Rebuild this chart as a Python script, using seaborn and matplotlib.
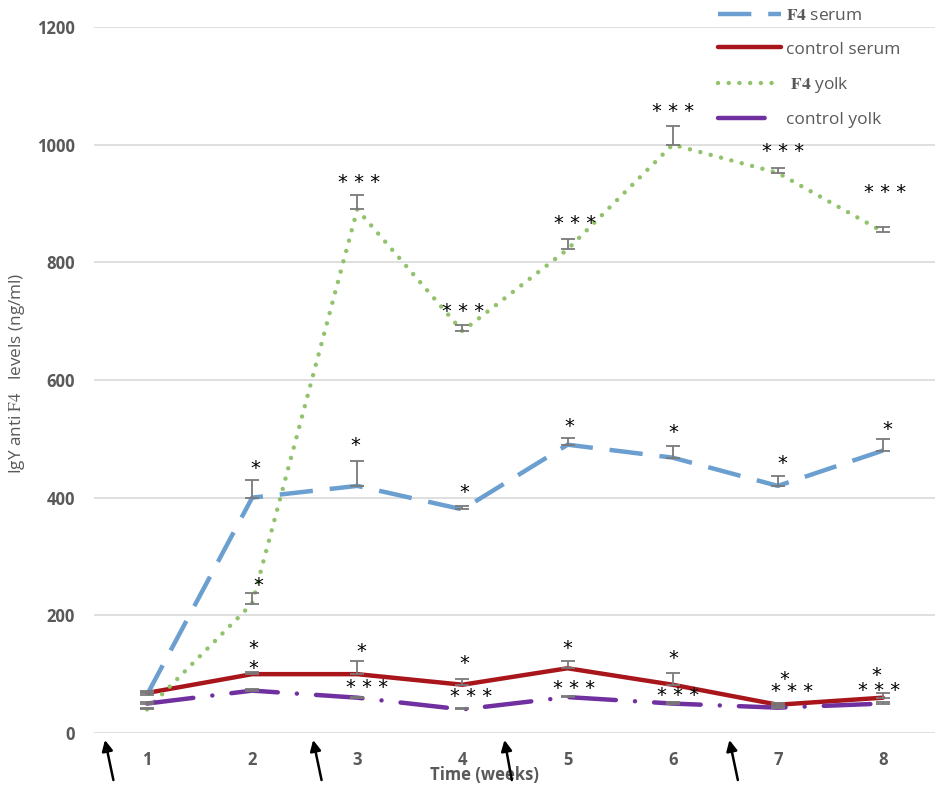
import matplotlib
matplotlib.use("Agg")
import matplotlib.pyplot as plt
import numpy as np
import pandas as pd
import seaborn as sns

sns.set_theme(style="white")
plt.rcParams["font.family"] = ["Open Sans", "DejaVu Sans"]
plt.rcParams["mathtext.fontset"] = "stix"

# values
weeks = [1, 2, 3, 4, 5, 6, 7, 8]
f4_serum = [65, 400, 420, 380, 490, 468, 420, 480]
control_serum = [68, 100, 100, 82, 110, 82, 48, 60]
f4_yolk = [40, 220, 890, 683, 822, 1000, 952, 852]
control_yolk = [50, 72, 60, 40, 61, 50, 43, 50]

# upper error bars
f4_serum_err = [5, 30, 42, 5, 12, 20, 17, 20]
control_serum_err = [3, 3, 22, 10, 12, 20, 3, 8]
f4_yolk_err = [3, 18, 25, 10, 17, 31, 9, 8]
control_yolk_err = [2, 2, 2, 2, 2, 3, 2, 3]

# significance marks (week position, value, text)
star_x = [2.03, 2.06, 2.01, 2.01,
          3.02, 2.98, 3.04, 3.09,
          4.01, 4.02, 4.02, 4.08,
          5.07, 5.02, 5.00, 5.06,
          6.00, 6.01, 6.01, 6.05,
          7.05, 7.04, 7.06, 7.14,
          8.02, 8.04, 7.94, 7.96]
star_y = [459, 260, 153, 119,
          945, 498, 148, 87,
          726, 418, 127, 71,
          875, 530, 153, 85,
          1066, 520, 136, 73,
          998, 467, 101, 80,
          928, 525, 107, 82]
star_txt = ["*", "*", "*", "*",
            "* * *", "*", "*", "* * *",
            "* * *", "*", "*", "* * *",
            "* * *", "*", "*", "* * *",
            "* * *", "*", "*", "* * *",
            "* * *", "*", "*", "* * *",
            "* * *", "*", "*", "* * *"]

# immunisation arrows (tip x, tail x) below the axis
arrow_tip = [0.60, 2.58, 4.40, 6.54]
arrow_tail = [0.68, 2.66, 4.47, 6.62]

grey = "#595959"

fig = plt.figure(figsize=(9.4, 7.89), dpi=100)
ax = fig.add_axes([0.1005, 0.071, 0.8947, 0.8948])

series = [
    (r"$\mathbf{F4}$ serum", f4_serum, f4_serum_err, "#6a9fd0", dict(linestyle=(0, (7.5, 3.8)), dash_capstyle="butt")),
    ("control serum", control_serum, control_serum_err, "#a8161b", dict(linestyle="-")),
    (r" $\mathbf{F4}$ yolk", f4_yolk, f4_yolk_err, "#92c36c", dict(linestyle=(0, (0.01, 2.4)), dash_capstyle="round")),
    ("control yolk", control_yolk, control_yolk_err, "#7030a0", dict(linestyle=(0, (10.5, 4.3, 0.01, 4.3)), dash_capstyle="round")),
]

handles = []
for name, vals, err, col, style in series:
    df = pd.DataFrame({"week": weeks, "value": vals})
    sns.lineplot(data=df, x="week", y="value", ax=ax, color=col, lw=3.2,
                 errorbar=None, label=name, zorder=3, **style)
    handles.append(ax.lines[-1])
    ax.errorbar(weeks, vals, yerr=[np.zeros(len(err)), err], fmt="none",
                ecolor="#7a7a7a", elinewidth=1.3, capsize=5, capthick=1.3, zorder=4)

for x, y, t in zip(star_x, star_y, star_txt):
    ax.annotate(t, (x, y), xytext=(0, -8), textcoords="offset points",
                ha="center", va="baseline", fontsize=14, color="black",
                family="DejaVu Sans", zorder=5)

for tip, tail in zip(arrow_tip, arrow_tail):
    ax.annotate("", xy=(tip, -12), xytext=(tail, -80),
                arrowprops=dict(arrowstyle="-|>", color="black", lw=1.8,
                                mutation_scale=16, shrinkA=0, shrinkB=0),
                annotation_clip=False)

ax.set_xlim(0.5, 8.5)
ax.set_ylim(0, 1200)
ax.set_xticks(weeks)
ax.set_yticks(range(0, 1201, 200))
ax.yaxis.grid(True, color="#d9d9d9", lw=1.2)
ax.xaxis.grid(False)
for s in ax.spines.values():
    s.set_visible(False)
ax.tick_params(axis="both", length=0, labelsize=12, labelcolor=grey)
ax.tick_params(axis="x", pad=13)
ax.tick_params(axis="y", pad=14)
for lab in ax.get_xticklabels() + ax.get_yticklabels():
    lab.set_fontweight("bold")

ax.set_xlabel("Time (weeks)", fontsize=12, fontweight="bold", color=grey, va="center")
ax.xaxis.set_label_coords(0.464, -0.06)
ax.set_ylabel(r"IgY anti $\mathrm{F4}$   levels (ng/ml)", fontsize=12.3, color=grey, va="center")
ax.yaxis.set_label_coords(-0.092, 0.51)

ax.legend(handles=handles, labels=[h.get_label() for h in handles],
          loc="upper left", bbox_to_anchor=(0.764, 0.99),
          bbox_transform=fig.transFigure, frameon=False, fontsize=12.5,
          handlelength=3.6, handletextpad=0.3, labelspacing=1.0,
          borderpad=0, borderaxespad=0, labelcolor=grey)

fig.savefig("out.png", dpi=100)
